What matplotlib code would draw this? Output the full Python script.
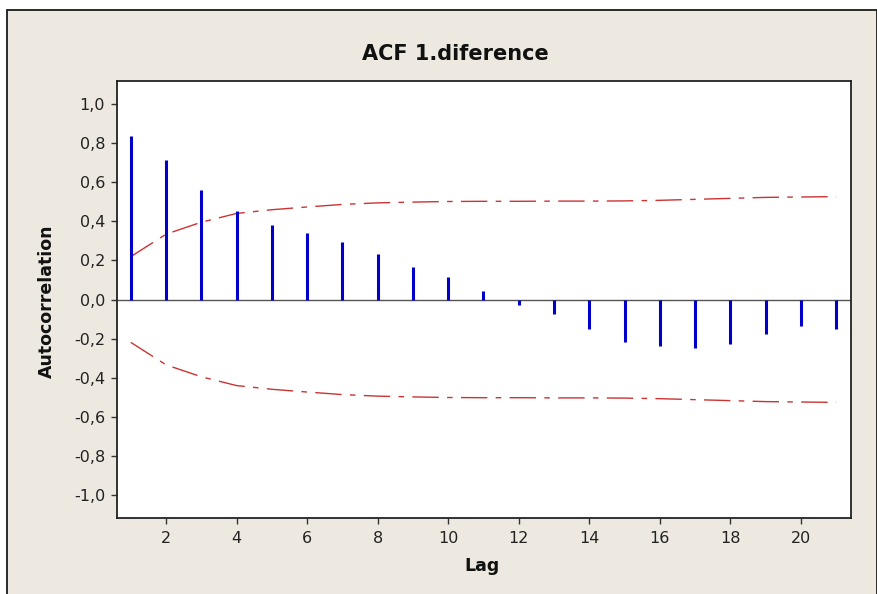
import matplotlib
matplotlib.use("Agg")
import matplotlib.pyplot as plt
from matplotlib.patches import Rectangle

# Data
lags = list(range(1, 22))
acf = [0.834, 0.712, 0.562, 0.453, 0.382, 0.341, 0.295, 0.233, 0.168, 0.114,
       0.043, -0.026, -0.073, -0.153, -0.215, -0.238, -0.247, -0.230, -0.175,
       -0.136, -0.153]
upper = [0.219, 0.334, 0.395, 0.440, 0.459, 0.473, 0.486, 0.494, 0.498, 0.501,
         0.502, 0.502, 0.503, 0.503, 0.504, 0.507, 0.512, 0.517, 0.522, 0.524,
         0.526]
lower = [-u for u in upper]
xticks = [2, 4, 6, 8, 10, 12, 14, 16, 18, 20]
yticks = [-1.0, -0.8, -0.6, -0.4, -0.2, 0.0, 0.2, 0.4, 0.6, 0.8, 1.0]
title = "ACF 1.diference"
xlabel = "Lag"
ylabel = "Autocorrelation"

W, H = 878, 594
fig = plt.figure(figsize=(W / 100, H / 100), dpi=100, facecolor="white")

# outer panel
fig.add_artist(Rectangle((7 / W, -0.01), (877 - 7) / W, (594 - 10) / H + 0.01,
                         transform=fig.transFigure, facecolor="#EDE9E0",
                         edgecolor="#1a1a1a", linewidth=1.3, zorder=0))

ax = fig.add_axes([117 / W, 1 - 518 / H, (851 - 117) / W, (518 - 81) / H])
ax.set_facecolor("white")

ax.axhline(0, color="#555555", lw=1.0, zorder=1)
ax.vlines(lags, 0, acf, color="#0000C8", lw=2.2, zorder=3)
dash = (0, (19, 6, 4, 6))
ax.plot(lags, upper, color="#CC3333", lw=1.0, linestyle=dash, zorder=2)
ax.plot(lags, lower, color="#CC3333", lw=1.0, linestyle=dash, zorder=2)

ax.set_xlim(0.61, 21.42)
ax.set_ylim(-1.117, 1.117)
ax.set_xticks(xticks)
ax.set_xticklabels([str(t) for t in xticks])
ax.set_yticks(yticks)
ax.set_yticklabels([f"{t:.1f}".replace(".", ",") for t in yticks])

for side in ["left", "bottom", "right", "top"]:
    ax.spines[side].set_color("#222222")
    ax.spines[side].set_linewidth(1.3)

ax.tick_params(axis="both", direction="out", length=4.5, width=1.0,
               color="#333333", labelsize=11.5, labelcolor="#222222")
ax.tick_params(axis="y", pad=4)
ax.tick_params(axis="x", pad=5)
ax.tick_params(top=False, right=False)

fig.text(455 / W, 1 - 54 / H, title, ha="center", va="center",
         fontsize=15, fontweight="bold", color="#111111")
fig.text(482 / W, 1 - 566 / H, xlabel, ha="center", va="center",
         fontsize=12.5, fontweight="bold", color="#111111")
fig.text(46.7 / W, 1 - 301 / H, ylabel, ha="center", va="center",
         rotation=90, fontsize=12.5, fontweight="bold", color="#111111")

fig.savefig("out.png", dpi=100, facecolor="white")
